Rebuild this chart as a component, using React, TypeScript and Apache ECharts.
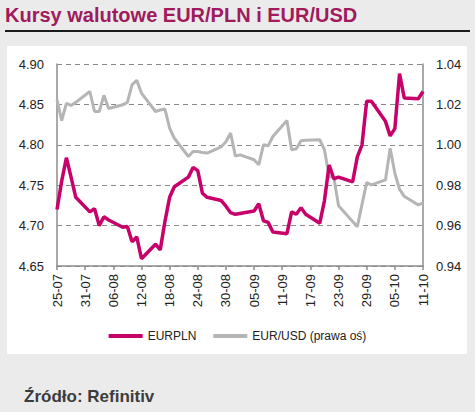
import React, { useEffect, useRef } from "react";
import * as echarts from "echarts";

// Day offsets from 25-07 (trading days only)
const tradingDays = [
  0, 1, 2, 3, 4, 7, 8, 9, 10, 11, 14, 15, 16, 17, 18, 21, 22, 23, 24, 25,
  28, 29, 30, 31, 32, 35, 36, 37, 38, 39, 42, 43, 44, 45, 46, 49, 50, 51, 52, 53,
  56, 57, 58, 59, 60, 63, 64, 65, 66, 67, 70, 71, 72, 73, 74, 77, 78,
];

const eurpln = [
  4.72, 4.755, 4.784, 4.76, 4.735, 4.717, 4.721, 4.7, 4.711, 4.707,
  4.698, 4.699, 4.68, 4.686, 4.659, 4.677, 4.67, 4.705, 4.735, 4.748,
  4.76, 4.772, 4.768, 4.74, 4.735, 4.731, 4.724, 4.716, 4.714, 4.715,
  4.718, 4.727, 4.706, 4.704, 4.692, 4.69, 4.717, 4.714, 4.722, 4.714,
  4.703, 4.731, 4.775, 4.758, 4.76, 4.754, 4.785, 4.8, 4.854, 4.854,
  4.829, 4.811, 4.82, 4.888, 4.858, 4.857, 4.866,
];

const eurusd = [
  1.0223, 1.012, 1.0205, 1.0195, 1.021, 1.0264, 1.0165, 1.0165, 1.0245, 1.018,
  1.0198, 1.021, 1.0298, 1.0319, 1.0256, 1.0165, 1.0172, 1.0177, 1.0083, 1.0033,
  0.9942, 0.9967, 0.9967, 0.9962, 0.9959, 0.999, 1.0015, 1.0058, 0.9945, 0.995,
  0.9926, 0.9901, 1.0, 0.9995, 1.0041, 1.012, 0.9975, 0.998, 1.002, 1.0022,
  1.0025, 0.9975, 0.9843, 0.9838, 0.9698, 0.962, 0.9595, 0.9705, 0.9813, 0.9802,
  0.9826, 0.9983, 0.986, 0.978, 0.9745, 0.9702, 0.9712,
];

// One label every 6 days, starting at 25-07
const tickLabels = [
  "25-07", "31-07", "06-08", "12-08", "18-08", "24-08", "30-08",
  "05-09", "11-09", "17-09", "23-09", "29-09", "05-10", "11-10",
];

const FONT = "Liberation Sans";
const MAGENTA = "#c8006a";
const GREY = "#b5b5b5";
const AXIS = "#8c8c8c";

export default function App() {
  const ref = useRef<HTMLDivElement>(null);

  useEffect(() => {
    if (!ref.current) return;
    const chart = echarts.init(ref.current, undefined, { renderer: "svg" });
    const plnData = tradingDays.map((d, i) => [d, eurpln[i]]);
    const usdData = tradingDays.map((d, i) => [d, eurusd[i]]);

    chart.setOption({
      animation: false,
      backgroundColor: "#ebebeb",
      textStyle: { fontFamily: FONT },
      graphic: [
        {
          type: "text",
          left: 5,
          top: 5,
          style: {
            text: "Kursy walutowe EUR/PLN i EUR/USD",
            fill: "#a01a5c",
            font: `bold 20px "${FONT}"`,
          },
        },
        {
          type: "line",
          shape: { x1: 5, y1: 31, x2: 470, y2: 31 },
          style: { stroke: "#1a1a1a", lineWidth: 2 },
        },
        {
          type: "rect",
          z: -10,
          shape: { x: 7, y: 46, width: 460, height: 308 },
          style: { fill: "#ffffff" },
        },
        {
          type: "text",
          left: 24,
          top: 388,
          style: {
            text: "Źródło: Refinitiv",
            fill: "#3c3c3c",
            font: `bold 17px "${FONT}"`,
          },
        },
      ],
      legend: {
        top: 325,
        left: "center",
        itemWidth: 34,
        itemHeight: 4,
        itemGap: 17,
        icon: "rect",
        textStyle: { fontFamily: FONT, fontSize: 12, color: "#222" },
        data: ["EURPLN", "EUR/USD (prawa oś)"],
      },
      grid: { left: 57, right: 52, top: 64, bottom: 146 },
      xAxis: {
        type: "value",
        min: 0,
        max: 78,
        interval: 6,
        axisLine: { show: true, lineStyle: { color: AXIS, width: 1.5 } },
        axisTick: { show: true, length: 4, lineStyle: { color: AXIS, width: 1.5 } },
        splitLine: { show: false },
        axisLabel: {
          rotate: 90,
          margin: 8,
          fontSize: 13,
          color: "#222",
          fontFamily: FONT,
          formatter: (v: number) => tickLabels[Math.round(v / 6)] ?? "",
        },
      },
      yAxis: [
        {
          type: "value",
          min: 4.65,
          max: 4.9,
          interval: 0.05,
          axisLine: { show: true, lineStyle: { color: AXIS, width: 1.5 } },
          axisTick: { show: false },
          splitLine: {
            show: true,
            lineStyle: { color: "#8a8a8a", type: [5, 4], width: 1 },
          },
          axisLabel: {
            margin: 13,
            fontSize: 13,
            color: "#222",
            fontFamily: FONT,
            formatter: (v: number) => v.toFixed(2),
          },
        },
        {
          type: "value",
          min: 0.94,
          max: 1.04,
          interval: 0.02,
          position: "right",
          axisLine: { show: true, lineStyle: { color: AXIS, width: 1.5 } },
          axisTick: { show: false },
          splitLine: { show: false },
          axisLabel: {
            margin: 13,
            fontSize: 13,
            color: "#222",
            fontFamily: FONT,
            formatter: (v: number) => v.toFixed(2),
          },
        },
      ],
      series: [
        {
          name: "EUR/USD (prawa oś)",
          type: "line",
          yAxisIndex: 1,
          data: usdData,
          showSymbol: false,
          color: GREY,
          lineStyle: { color: GREY, width: 3 },
          z: 2,
        },
        {
          name: "EURPLN",
          type: "line",
          yAxisIndex: 0,
          data: plnData,
          showSymbol: false,
          color: MAGENTA,
          lineStyle: { color: MAGENTA, width: 3.5 },
          z: 3,
        },
      ],
    });

    return () => chart.dispose();
  }, []);

  return (
    <div
      ref={ref}
      style={{ position: "fixed", left: 0, top: 0, width: 475, height: 412 }}
    />
  );
}
